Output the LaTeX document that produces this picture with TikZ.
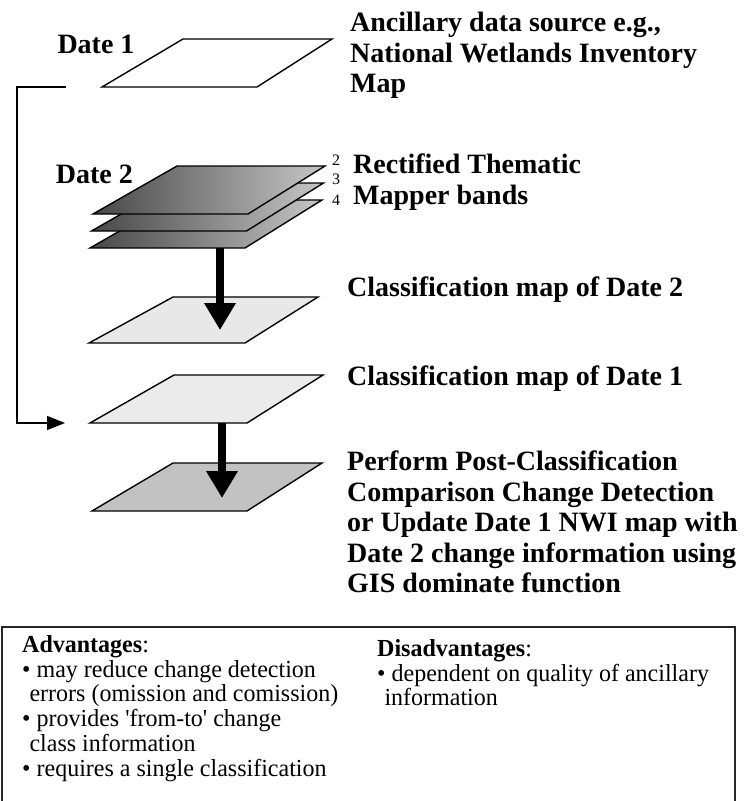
\documentclass[tikz,border=0pt]{standalone}
\usepackage{fontspec}
\setmainfont{Liberation Serif}
\newfontfamily\boxfont[FakeStretch=0.98]{Liberation Serif}
\usetikzlibrary{arrows.meta}
\usetikzlibrary{positioning}

\tikzset{
  plane/.style={draw=black,line width=1.4,line join=miter},
  bandfill/.style={shading=axis,left color=black!72,right color=black!22},
  title/.style={font=\fontsize{28}{30.5}\selectfont\bfseries,anchor=north west,align=left,inner sep=0pt},
  bandno/.style={font=\fontsize{16}{16}\selectfont,inner sep=0pt},
  boxtext/.style={font=\boxfont\fontsize{24.5}{24.8}\selectfont,anchor=north west,align=left,inner sep=0pt},
  flow/.style={line width=8,-{Triangle[width=30pt,length=27pt]}},
  link/.style={line width=1.3,-{Triangle[width=14pt,length=18pt]}}
}

\begin{document}
\begin{tikzpicture}[x=1pt,y=-1pt]
\useasboundingbox (0,0) rectangle (748,801);

\draw[plane,fill=white] (183,39) -- (332,39) -- (257,87) -- (102,87) -- cycle;
\node[title,anchor=base] (date1) at (96,53) {Date 1};
\node[title] (ancil) at (350,12) {Ancillary data source e.g.,\\National Wetlands Inventory\\Map};

\draw[plane,bandfill] (174,200) -- (322,200) -- (245,248) -- (90,248) -- cycle;
\draw[plane,bandfill] (175.5,183) -- (323.5,183) -- (246.5,231) -- (91.5,231) -- cycle;
\draw[plane,bandfill] (177,166) -- (325,166) -- (248,214) -- (93,214) -- cycle;
\node[title,anchor=base east] (date2) at (133,183) {Date 2};
\node[bandno] (b2) at (336,160) {2};
\node[bandno] (b3) at (336,179) {3};
\node[bandno] (b4) at (336,200) {4};
\node[title] (tm) at (353,154) {Rectified Thematic\\Mapper bands};

\draw[plane,fill=black!9] (173,297) -- (318,297) -- (245,343) -- (89,343) -- cycle;
\node[title] (cls2) at (347,276.5) {Classification map of Date 2};

\draw[plane,fill=black!8] (174,375) -- (323,375) -- (247,423) -- (90,423) -- cycle;
\node[title] (cls1) at (347,366) {Classification map of Date 1};

\draw[plane,fill=black!24] (173,463) -- (322,463) -- (247,511) -- (92,511) -- cycle;
\node[title] (post) at (347,451) {Perform Post-Classification\\Comparison Change Detection\\or Update Date 1 NWI map with\\Date 2 change information using\\GIS dominate function};

\coordinate (stackbot) at (220,248);
\coordinate (cls2tip) at (220,330);
\coordinate (cls1bot) at (222,423);
\coordinate (posttip) at (222,498);
\draw[flow] (stackbot) -- (cls2tip);
\draw[flow] (cls1bot) -- (posttip);

\coordinate (lnstart) at (66,87);
\coordinate (lncorner) at (17,87);
\coordinate (lnend) at (65,423);
\draw[link] (lnstart) -- (lncorner) |- (lnend);

\draw[line width=1.6,black!85] (2,801) -- (2,627) -- (735,627) -- (735,801);
\node[boxtext] (adv) at (22,635) {\textbf{Advantages}:\\
\textbullet\ may reduce change detection\\
\hspace*{0.3em}errors (omission and comission)\\
\textbullet\ provides 'from-to' change\\
\hspace*{0.3em}class information\\
\textbullet\ requires a single classification};
\node[boxtext] (dis) at (377,639) {\textbf{Disadvantages}:\\
\textbullet\ dependent on quality of ancillary\\
\hspace*{0.3em}information};

\end{tikzpicture}
\end{document}
